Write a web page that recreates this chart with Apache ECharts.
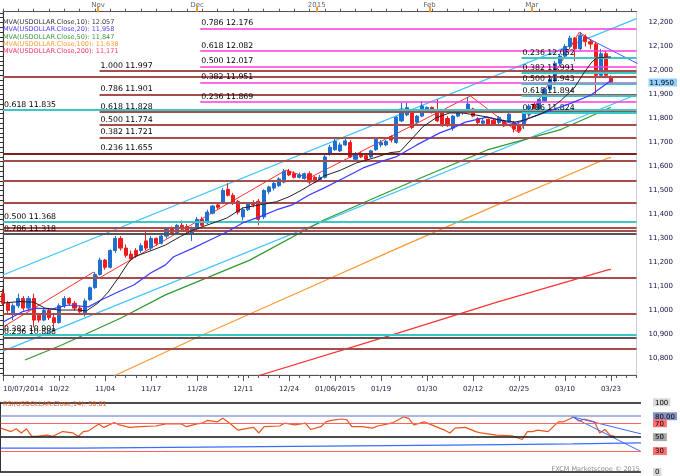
<!DOCTYPE html>
<html><head><meta charset="utf-8">
<script src="https://cdn.jsdelivr.net/npm/echarts@6/dist/echarts.min.js"></script>
<style>html,body{margin:0;padding:0;background:#fff}#c{width:680px;height:476px}</style>
</head><body><div id="c"></div>
<script>
// ---------- categories (weekdays from 10/07/2014) ----------
const N = 125;
const dates = [];
(function(){let d=new Date(2014,9,7);while(dates.length<N){const w=d.getDay();if(w>0&&w<6){dates.push(String(d.getMonth()+1).padStart(2,'0')+'/'+String(d.getDate()).padStart(2,'0')+'/'+d.getFullYear());}d.setDate(d.getDate()+1);}})();

// bottom tick labels (category index -> text)
const xTickIdx  = [0,11,20,29,38,47,56,65,74,83,92,101,110,119];
const xTickText = ['10/07/2014','10/22','11/04','11/17','11/28','12/11','12/24','01/06/2015','01/19','01/30','02/12','02/25','03/10','03/23'];
// top month labels
const monthPos  = [18.6,38,61.4,83.5,103.5];
const monthText = ['Nov','Dec','2015','Feb','Mar'];

// price axis ticks
const priceTicks = [10.8,10.9,11.0,11.1,11.2,11.3,11.4,11.5,11.6,11.7,11.8,11.9,12.0,12.1,12.2];

// ---------- candles [open, close, low, high] ----------
const candles = [
[11.07,11.03,11.02,11.09],[11.03,11.00,10.99,11.04],[10.99,11.02,10.96,11.03],[11.02,11.05,11.01,11.07],
[11.05,11.01,11.00,11.06],[11.01,11.05,11.00,11.06],[11.05,10.96,10.93,11.07],[10.98,10.96,10.95,10.99],
[10.96,11.00,10.955,11.01],[11.00,10.97,10.96,11.01],[10.97,10.95,10.94,10.99],[10.95,11.02,10.945,11.03],
[11.02,11.05,11.01,11.06],[11.05,11.03,11.02,11.055],[11.03,11.01,11.00,11.04],[11.01,10.995,10.99,11.02],
[10.99,11.04,10.975,11.05],[11.045,11.095,11.04,11.10],[11.095,11.15,11.09,11.16],[11.15,11.21,11.145,11.22],
[11.21,11.18,11.17,11.215],[11.18,11.25,11.175,11.255],[11.25,11.30,11.24,11.31],[11.30,11.26,11.25,11.31],
[11.26,11.23,11.22,11.275],[11.235,11.215,11.21,11.25],[11.25,11.23,11.22,11.26],[11.25,11.27,11.24,11.28],
[11.29,11.26,11.25,11.33],[11.26,11.30,11.25,11.31],[11.30,11.28,11.27,11.305],[11.28,11.31,11.275,11.32],
[11.31,11.34,11.30,11.345],[11.34,11.325,11.32,11.35],[11.325,11.355,11.32,11.36],[11.355,11.34,11.33,11.375],
[11.35,11.33,11.32,11.36],[11.32,11.345,11.29,11.35],[11.34,11.38,11.335,11.39],[11.38,11.355,11.35,11.39],
[11.365,11.41,11.36,11.42],[11.405,11.435,11.40,11.44],[11.44,11.43,11.42,11.45],[11.45,11.50,11.445,11.51],
[11.505,11.48,11.475,11.53],[11.48,11.45,11.44,11.49],[11.455,11.41,11.40,11.46],[11.39,11.42,11.375,11.43],
[11.42,11.445,11.415,11.45],[11.45,11.44,11.43,11.46],[11.455,11.38,11.355,11.465],[11.39,11.50,11.38,11.505],
[11.495,11.515,11.485,11.52],[11.51,11.53,11.50,11.54],[11.52,11.548,11.515,11.555],[11.535,11.58,11.53,11.59],
[11.58,11.565,11.56,11.59],[11.57,11.555,11.55,11.58],[11.555,11.565,11.55,11.575],[11.55,11.57,11.545,11.575],
[11.57,11.535,11.525,11.58],[11.555,11.535,11.53,11.56],[11.545,11.555,11.54,11.565],[11.555,11.64,11.55,11.65],
[11.65,11.68,11.645,11.69],[11.67,11.705,11.665,11.72],[11.665,11.69,11.66,11.70],[11.69,11.707,11.685,11.715],
[11.70,11.64,11.635,11.71],[11.63,11.65,11.625,11.66],[11.655,11.64,11.635,11.66],[11.645,11.63,11.62,11.65],
[11.64,11.665,11.635,11.67],[11.67,11.714,11.665,11.72],[11.69,11.70,11.68,11.71],[11.69,11.705,11.685,11.71],
[11.725,11.71,11.70,11.73],[11.70,11.805,11.695,11.81],[11.79,11.84,11.785,11.866],[11.815,11.845,11.81,11.866],
[11.825,11.763,11.755,11.83],[11.785,11.81,11.78,11.815],[11.81,11.852,11.805,11.873],[11.83,11.846,11.825,11.85],
[11.846,11.825,11.82,11.85],[11.832,11.79,11.785,11.88],[11.825,11.77,11.765,11.83],[11.80,11.77,11.765,11.81],
[11.76,11.81,11.749,11.815],[11.81,11.825,11.805,11.83],[11.825,11.83,11.815,11.84],[11.83,11.86,11.825,11.89],
[11.84,11.81,11.805,11.845],[11.80,11.783,11.775,11.805],[11.78,11.79,11.775,11.80],[11.797,11.776,11.77,11.80],
[11.793,11.776,11.77,11.80],[11.783,11.804,11.775,11.81],[11.79,11.769,11.765,11.795],[11.79,11.818,11.785,11.832],
[11.783,11.756,11.742,11.79],[11.776,11.749,11.74,11.78],[11.776,11.832,11.756,11.835],[11.818,11.852,11.81,11.86],
[11.859,11.839,11.835,11.865],[11.839,11.88,11.835,11.885],[11.873,11.922,11.868,11.93],[11.922,11.963,11.915,11.97],
[11.956,12.03,11.95,12.04],[12.03,12.06,12.02,12.07],[12.06,12.10,12.05,12.11],[12.10,12.135,12.09,12.145],
[12.135,12.09,12.04,12.14],[12.09,12.145,12.085,12.16],[12.14,12.12,12.10,12.15],[12.12,12.11,12.09,12.13],
[12.11,11.98,11.89,12.12],[11.98,12.07,11.97,12.09],[12.07,11.98,11.97,12.08],[11.975,11.95,11.945,11.98]
];

// ---------- moving averages [index, value] ----------
const ma10 = [[0,11.031],[3.2,11.037],[6,11.035],[8.2,11.010],[11,11.002],[14.8,11.002],[16.3,10.998],[18.6,11.031],[20.6,11.077],[22.7,11.140],[24.5,11.198],[25.6,11.223],[28.3,11.244],[30.3,11.260],[31.8,11.273],[34.7,11.308],[37.2,11.335],[43.8,11.385],[46.9,11.427],[50.2,11.440],[53.5,11.453],[56,11.474],[58.5,11.502],[61.8,11.544],[62.8,11.560],[66.1,11.585],[69.2,11.615],[72.5,11.635],[75.8,11.658],[77.7,11.662],[80.2,11.719],[82.2,11.766],[84.7,11.802],[87.4,11.823],[89.9,11.823],[92.4,11.815],[94.8,11.806],[97.1,11.794],[100.2,11.785],[102.1,11.794],[104.8,11.815],[106.8,11.835],[109.3,11.877],[111.8,11.927],[113.7,11.990],[115.1,12.031],[116.1,12.052],[118.4,12.056],[119,12.057]];
const ma20 = [[0,10.952],[3.7,10.994],[6.3,11.010],[9.5,11.006],[12.8,11.023],[16.7,11.015],[19.2,11.044],[22.5,11.077],[25.6,11.106],[28.9,11.156],[31.8,11.190],[33.4,11.224],[37.2,11.260],[40.5,11.294],[43.8,11.327],[46.9,11.365],[50.2,11.390],[53.5,11.419],[56.6,11.440],[59.9,11.481],[62.8,11.510],[66.7,11.552],[70.5,11.594],[73.8,11.619],[76.9,11.640],[81,11.690],[85.5,11.740],[88,11.760],[90.5,11.785],[94.8,11.806],[100.2,11.777],[103.5,11.806],[106.8,11.831],[111,11.862],[115.1,11.898],[119,11.958]];
const ma50 = [[4.3,10.794],[11.5,10.856],[23.1,10.969],[31.8,11.065],[48.3,11.210],[62.8,11.377],[80.8,11.544],[94.8,11.669],[109.3,11.755],[119,11.847]];
const ma100 = [[21.7,10.727],[38.6,10.894],[58,11.077],[77.3,11.260],[96.7,11.440],[108.3,11.544],[118.4,11.635],[119,11.638]];
const ma200 = [[49.8,10.727],[77.3,10.906],[96.7,11.035],[118.4,11.169],[119,11.171]];

// ---------- drawn trend lines [index, price] ----------
const channelUpper = [[0,11.148],[124,12.216]];
const channelLower = [[0,10.831],[124,11.900]];
const zigzag = [[0,10.931],[17.7,11.160],[18.8,11.135],[55.4,11.585],[59.9,11.552],[91.5,11.894],[101,11.740],[112.8,12.160],[115.7,12.119]];
const downLine = [[112.8,12.152],[124.2,12.029]];

// ---------- horizontal levels ----------
const fibMagenta = [[0.786,12.176],[0.618,12.082],[0.500,12.017],[0.382,11.951],[0.236,11.869]];
const fibMaroon  = [[1.000,11.997],[0.786,11.901],[0.618,11.828],[0.500,11.774],[0.382,11.721],[0.236,11.655]];
const fibCyanR   = [[0.236,12.052],[0.382,11.991],[0.500,11.943],[0.618,11.894],[0.786,11.824]];
const fibCyanL   = [[0.618,11.835],[0.500,11.368],[0.382,10.901]];
const fibGreyL   = [[0.786,11.318],[0.236,10.888]];
const plainLevels = [11.974,11.623,11.540,11.451,11.345,11.331,11.137,10.988,10.842];

// ---------- RSI [index, value] ----------
const rsi = [[0,63],[2,58],[3,62],[4,56],[5,62],[6,51],[7,51],[9,53],[10,51],[12,58],[14,56],[15,51],[16,58],[17,59],[19,69],[20,64],[22,71],[23,67.5],[25,64],[27,65],[30,66],[32,69],[35,69],[36,65],[38,69],[39,70],[40,74],[42,72],[43,77],[44,72],[46,60],[48,63],[49,64],[50,56],[51,65],[54,66],[55,70],[57,67.5],[59,70],[60,61],[62,65],[63,72],[64,74],[66,76],[67,75],[68,65],[70,65],[72,63],[73,66],[75,69],[76,71],[78,79],[79,77],[80,67.5],[82,72],[83,69],[85,63],[86,60],[87,56],[88,63],[90,64],[92,58],[93,56],[96,53],[99,52],[101,46.6],[102,58],[103,58],[104,60],[106,58],[108,72],[109,72],[111,79],[112,73],[113,76],[115,72],[116,56],[117,61],[118,53],[119,50.81]];
const rsiStep = [[0,34.3],[14.8,35.7],[39,37.1],[62.8,38.6],[87,40.4],[110.8,41.9],[124,41.9]];
const rsiDown1 = [[110.6,79.4],[124,54.7]];
const rsiDown2 = [[110.6,79.4],[124,29.4]];
const rsiLevels = [100,80,70,50,30,0];

// ---------- build ----------
const X0 = 0.7, XR = 680-641.7;
const Y_TOP = 11.7, Y_BOT = 375;
const pMax = 12.2 + (22.5-Y_TOP)/240, pMin = 12.2 - (Y_BOT-22.5)/240;
const lastClose = candles[candles.length-1][1];
const fmt = v => v.toFixed(3).replace('.', ',');
const FONT = 'DejaVu Sans';

function hLevels(list, startIdx, color, width, withLabel){
  return list.map(([r,p]) => [
    {coord:[startIdx,p], lineStyle:{color:color,width:width,type:'solid'},
     label: withLabel ? {show:true, position:'insideStartTop', distance:[1,1], formatter:r.toFixed(3)+' '+p.toFixed(3), color:'#000', fontSize:7.8, fontFamily:FONT} : {show:false}},
    {coord:[124,p]}
  ]);
}
const markData = [].concat(
  plainLevels.map(p=>[{coord:[0,p],lineStyle:{color:'#a64d4d',width:2,type:'solid'},label:{show:false}},{coord:[124,p]}]),
  hLevels(fibMaroon, 18.9, '#a64d4d', 2, true),
  hLevels(fibMagenta, 38.6, '#ff3ad8', 1.5, true),
  hLevels(fibCyanR, 101.5, '#3cc6c6', 2, true),
  hLevels(fibCyanL, 0, '#3cc6c6', 2, true),
  hLevels(fibGreyL, 0, '#555555', 2, true)
);
markData.push([{coord:[0,11.655],lineStyle:{color:'#7a2222',width:2,type:'solid'},label:{show:false}},{coord:[124,11.655]}]);

function lineS(name, data, color, width, z, extra){
  return Object.assign({name, type:'line', xAxisIndex:1, yAxisIndex:0, data, symbol:'none', silent:true,
    lineStyle:{color, width}, z:z, animation:false, clip:true}, extra||{});
}

const topTicks=[]; for(let i=0;i<=124;i+=3) topTicks.push(i);
const botTicks=[]; for(let i=0;i<=124;i+=2) botTicks.push(i);
const minorP=[]; for(let v=10.74; v<=12.24; v+=0.02) minorP.push(+v.toFixed(2));

const option = {
  animation:false,
  backgroundColor:'#fff',
  grid:[
    {left:X0, right:XR, top:Y_TOP, bottom:476-Y_BOT, show:true, borderColor:'#c9d0d8', borderWidth:1},
    {left:X0, right:XR, top:402.3, height:70, show:false}
  ],
  xAxis:[
    {type:'category', gridIndex:0, data:dates, boundaryGap:false, position:'bottom',
     axisLine:{lineStyle:{color:'#555',width:1}},
     axisTick:{length:6, interval:(i)=>xTickIdx.includes(i), lineStyle:{color:'#555'}},
     axisLabel:{interval:(i)=>xTickIdx.includes(i), formatter:(v,i)=>xTickText[xTickIdx.indexOf(i)]||'', fontSize:7, fontFamily:FONT, color:'#222244', margin:11, alignMinLabel:'left'},
     splitLine:{show:false}},
    {type:'value', gridIndex:0, min:0, max:124, position:'top',
     axisLine:{show:true, lineStyle:{color:'#555'}},
     axisTick:{show:true, customValues:monthPos, length:5, lineStyle:{color:'#ff9a1a', width:2}},
     axisLabel:{show:true, customValues:monthPos, formatter:(v)=>monthText[monthPos.indexOf(v)]||'', fontSize:7, fontFamily:FONT, color:'#666', margin:3},
     splitLine:{show:false}},
    {type:'value', gridIndex:0, min:0, max:124, position:'top',
     axisLine:{show:false}, axisTick:{show:true, customValues:topTicks, length:3, lineStyle:{color:'#555'}},
     axisLabel:{show:false}, splitLine:{show:false}},
    {type:'value', gridIndex:0, min:0, max:124, position:'bottom',
     axisLine:{show:false}, axisTick:{show:true, customValues:botTicks, length:3, lineStyle:{color:'#555'}},
     axisLabel:{show:false}, splitLine:{show:false}},
    {type:'value', gridIndex:1, min:0, max:124, show:false}
  ],
  yAxis:[
    {type:'value', gridIndex:0, min:pMin, max:pMax, position:'right', offset:8, scale:true,
     axisLine:{show:true, lineStyle:{color:'#333'}},
     axisTick:{show:true, inside:true, length:6, customValues:priceTicks, lineStyle:{color:'#333'}},
     axisLabel:{show:true, customValues:priceTicks.concat([lastClose]), margin:4, fontSize:7, fontFamily:FONT, color:'#101040',
       formatter:(v)=> Math.abs(v-lastClose)<1e-9 ? '{hl|'+fmt(v)+'}' : fmt(v),
       rich:{hl:{backgroundColor:'#8fd0ff', color:'#000', fontSize:7, fontFamily:FONT, padding:[1,3,0,1]}}},
     splitLine:{show:false}},
    {type:'value', gridIndex:0, min:pMin, max:pMax, position:'right', offset:8, scale:true,
     axisLine:{show:false}, axisTick:{show:true, inside:true, length:3, customValues:minorP, lineStyle:{color:'#333'}},
     axisLabel:{show:false}, splitLine:{show:false}},
    {type:'value', gridIndex:1, min:0, max:100, position:'right', offset:6,
     axisLine:{show:true, lineStyle:{color:'#333'}},
     axisTick:{show:true, inside:true, length:4, customValues:[0,10,20,30,40,50,60,70,80,90,100]},
     axisLabel:{show:true, customValues:rsiLevels, margin:6, fontSize:7, fontFamily:FONT, color:'#000',
       formatter:(v)=>{ if(v===80) return '{b|80.00}'; if(v===70||v===30) return '{r|'+v+'}'; if(v===50) return '{g|50}'; return '{l|'+v+'}'; },
       rich:{b:{backgroundColor:'#8593c6',padding:[1,2,0,2],fontSize:7,fontFamily:FONT,color:'#000'},
             r:{backgroundColor:'#ff7070',padding:[1,3,0,2],fontSize:7,fontFamily:FONT,color:'#000'},
             g:{backgroundColor:'#a8a8a8',padding:[1,3,0,2],fontSize:7,fontFamily:FONT,color:'#000'},
             l:{backgroundColor:'#d9d9d9',padding:[1,2,0,2],fontSize:7,fontFamily:FONT,color:'#000'}}},
     splitLine:{show:false}}
  ],
  series:[
    {name:'levels', type:'line', xAxisIndex:1, yAxisIndex:0, data:[], z:1, silent:true,
     markLine:{symbol:['none','none'], silent:true, animation:false, data:markData}},
    lineS('chUp', channelUpper, '#3fc4ff', 1.3, 2),
    lineS('chLo', channelLower, '#3fc4ff', 1.3, 2),
    lineS('zig', zigzag, '#ff3030', 1, 2),
    lineS('down', downLine, '#3a5cff', 1, 2),
    {name:'USDOLLAR', type:'candlestick', xAxisIndex:0, yAxisIndex:0, data:candles, barWidth:3.6, z:3,
     itemStyle:{color:'#1f6fd1', color0:'#ee1c1c', borderColor:'#1f6fd1', borderColor0:'#ee1c1c', borderWidth:1}},
    lineS('MA200', ma200, '#ff3333', 1.2, 4),
    lineS('MA100', ma100, '#ff9933', 1.2, 4),
    lineS('MA50', ma50, '#2f9a2f', 1.2, 4),
    lineS('MA20', ma20, '#3b3bff', 1.2, 5),
    lineS('MA10', ma10, '#222222', 1, 6),
    {name:'rsiLevels', type:'line', xAxisIndex:4, yAxisIndex:2, data:[], silent:true, z:1,
     markLine:{symbol:['none','none'], silent:true, label:{show:false}, data:[
       {yAxis:100, lineStyle:{color:'#111',width:1.5,type:'solid'}},
       {yAxis:80, lineStyle:{color:'#8f9fd8',width:1.5,type:'solid'}},
       {yAxis:70, lineStyle:{color:'#ff6060',width:1,type:'solid'}},
       {yAxis:50, lineStyle:{color:'#111',width:1.5,type:'solid'}},
       {yAxis:30, lineStyle:{color:'#ff6060',width:1,type:'solid'}},
       {yAxis:0, lineStyle:{color:'#111',width:1.5,type:'solid'}}]}},
    {name:'rsiStep', type:'line', xAxisIndex:4, yAxisIndex:2, data:rsiStep, step:'end', symbol:'none', lineStyle:{color:'#3a6cff',width:1.2}, z:2, silent:true},
    {name:'RSI', type:'line', xAxisIndex:4, yAxisIndex:2, data:rsi, symbol:'none', lineStyle:{color:'#e8561a',width:1.2}, z:3, silent:true},
    {name:'rsiD1', type:'line', xAxisIndex:4, yAxisIndex:2, data:rsiDown1, symbol:'none', lineStyle:{color:'#3a6cff',width:1}, z:4, silent:true},
    {name:'rsiD2', type:'line', xAxisIndex:4, yAxisIndex:2, data:rsiDown2, symbol:'none', lineStyle:{color:'#3a6cff',width:1}, z:4, silent:true}
  ],
  graphic:[]
};

const legendRows = [
  ['MVA(USDOLLAR.Close,10): ', ma10, '#333333'],
  ['MVA(USDOLLAR.Close,20): ', ma20, '#4a3cff'],
  ['MVA(USDOLLAR.Close,50): ', ma50, '#3a9a3a'],
  ['MVA(USDOLLAR.Close,100): ', ma100, '#ff9a3a'],
  ['MVA(USDOLLAR.Close,200): ', ma200, '#ff3366']
];
legendRows.forEach((r,k)=>{
  const v = r[1][r[1].length-1][1];
  option.graphic.push({type:'text', left:3, top:19+k*7.3, z:20, silent:true,
    style:{text:r[0]+(k===0?v.toFixed(3):fmt(v)), fill:r[2], font:'6.5px "'+FONT+'"'}});
});
option.graphic.push({type:'text', left:3, top:401, z:20, silent:true,
  style:{text:'RSI(USDOLLAR.Close,14): '+rsi[rsi.length-1][1].toFixed(2), fill:'#e8561a', font:'6.5px "'+FONT+'"'}});
option.graphic.push({type:'text', right:40, top:466, z:20, silent:true,
  style:{text:'FXCM Marketscope \u00a9 2015', fill:'#8a8a8a', font:'6.5px "'+FONT+'"'}});

const chart = echarts.init(document.getElementById('c'), null, {renderer:'canvas'});
chart.setOption(option);
</script></body></html>
